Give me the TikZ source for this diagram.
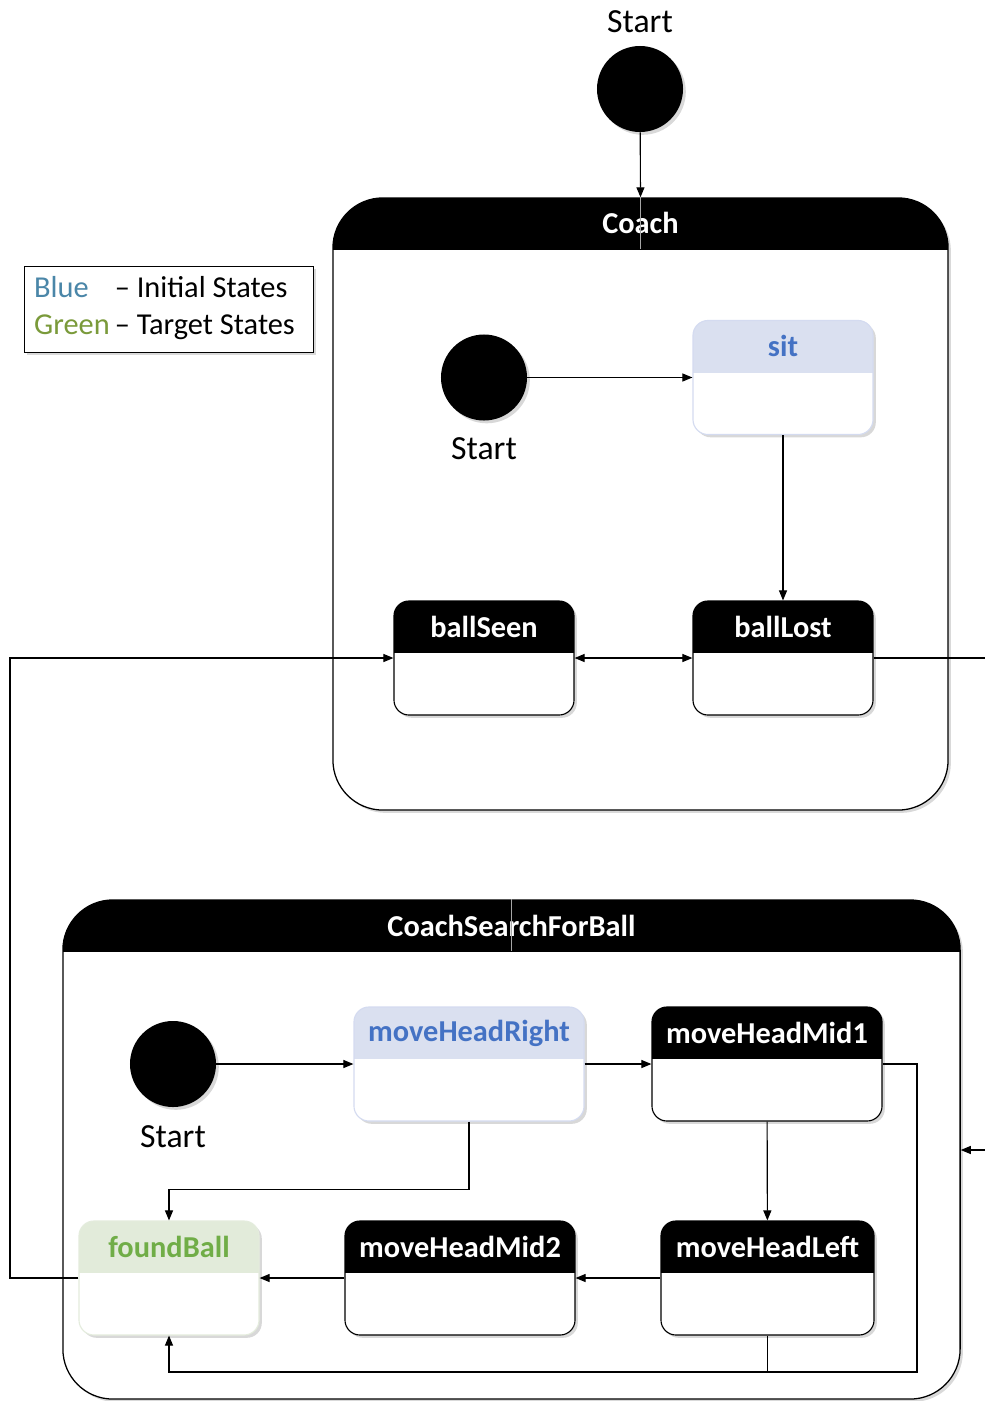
\documentclass[tikz,border=0pt]{standalone}
\usepackage{fontspec}
\setmainfont{Carlito}
\usetikzlibrary{arrows.meta,shadows}

\definecolor{legblue}{HTML}{4A86A8}
\definecolor{leggreen}{HTML}{7A9A3A}
\definecolor{inithead}{HTML}{DAE0F0}
\definecolor{initline}{HTML}{D4DBF0}
\definecolor{inittext}{HTML}{4472C4}
\definecolor{targethead}{HTML}{E2EBDA}
\definecolor{targetline}{HTML}{E4ECDD}
\definecolor{targettext}{HTML}{70AD47}

\begin{document}
\begin{tikzpicture}[x=0.025cm, y=-0.025cm,
    soft/.style={drop shadow={shadow xshift=0.07cm, shadow yshift=-0.07cm, opacity=0.3}},
    startdot/.style={circle, fill=black, minimum size=2.15cm, inner sep=0pt, soft},
    container/.style={draw, line width=0.9pt, rounded corners=1.25cm, fill=white, inner sep=0pt, soft,
      path picture={\fill[black, sharp corners] (path picture bounding box.north west) rectangle ([yshift=-1.3cm]path picture bounding box.north east);}},
    statebox/.style={draw, line width=0.8pt, rounded corners=0.375cm, fill=white, inner sep=0pt,
      minimum height=2.85cm, soft,
      path picture={\fill[#1, sharp corners] (path picture bounding box.north west) rectangle ([yshift=-1.3cm]path picture bounding box.north east);}},
    statebox/.default=black,
    headtext/.style={text=white, font=\bfseries\fontsize{21.6}{25}\selectfont},
    starttext/.style={font=\fontsize{24}{28}\selectfont},
    arr/.style={line width=0.8pt, -{Triangle[length=0.25cm, width=0.2cm]}},
    plain/.style={line width=0.8pt}]
   \clip (0,0) rectangle (985,1401);

   % legend
   \node[draw, fill=white, soft, minimum width=7.225cm, minimum height=2.15cm, inner sep=0pt,
     font=\fontsize{21.6}{26.3}\selectfont] (legend) at (168.5,309)
     {\raisebox{-0.075cm}{\begin{tabular}{@{}l@{\,}l@{\hspace{0.2cm}}}
       \textcolor{legblue}{Blue} & -- Initial States\\
       \textcolor{leggreen}{Green} & -- Target States
      \end{tabular}}};

   % top level
   \node[startdot] (start0) at (640,89) {};
   \node[starttext] (start0T) at (640,22) {Start};

   \node[container, minimum width=15.375cm, minimum height=15.3cm] (coach) at (640.5,504) {};
   \node[headtext] (coachT) at (640.5,223) {Coach};

   \node[container, minimum width=22.425cm, minimum height=12.475cm] (search) at (511.5,1149.5) {};
   \node[headtext] (searchT) at (511.5,926) {CoachSearchForBall};

   % Coach
   \node[startdot] (start1) at (484,377.5) {};
   \node[starttext] (start1T) at (484,449) {Start};
   \node[statebox=inithead, draw=initline, minimum width=4.5cm] (sit) at (783,377.5) {};
   \node[headtext, text=inittext] (sitT) at (783,346) {sit};
   \node[statebox, minimum width=4.5cm] (ballSeen) at (484,658) {};
   \node[headtext] (ballSeenT) at (484,627) {ballSeen};
   \node[statebox, minimum width=4.5cm] (ballLost) at (783,658) {};
   \node[headtext] (ballLostT) at (783,627) {ballLost};

   % CoachSearchForBall
   \node[startdot] (start2) at (173,1064) {};
   \node[starttext] (start2T) at (173,1137) {Start};
   \node[statebox=inithead, draw=initline, minimum width=5.75cm] (headRight) at (469,1064) {};
   \node[headtext, text=inittext] (headRightT) at (469,1033) {moveHeadRight};
   \node[statebox, minimum width=5.75cm] (headMid1) at (767,1064) {};
   \node[headtext] (headMid1T) at (767,1033) {moveHeadMid1};
   \node[statebox, minimum width=5.325cm] (headLeft) at (767.5,1278) {};
   \node[headtext] (headLeftT) at (767.5,1247) {moveHeadLeft};
   \node[statebox, minimum width=5.75cm] (headMid2) at (460,1278) {};
   \node[headtext] (headMid2T) at (460,1247) {moveHeadMid2};
   \node[statebox=targethead, draw=targetline, minimum width=4.5cm] (foundBall) at (169,1278) {};
   \node[headtext, text=targettext] (foundBallT) at (169,1247) {foundBall};

   \coordinate (rightRail) at (1000,1150);
   \coordinate (leftRail) at (10,900);
   \coordinate (loopCorner) at (917,1372);

   \draw[arr] (start0) -- (coach.north);
   \draw[gray!70, line width=0.5pt] (coach.north) -- ++(0,52);
   \draw[gray!70, line width=0.5pt] (search.north) -- ++(0,52);
   \draw[arr] (start1) -- (sit.west);
   \draw[arr] (sit) -- (ballLost);
   \draw[line width=0.8pt, {Triangle[length=0.25cm, width=0.2cm]}-{Triangle[length=0.25cm, width=0.2cm]}] (ballSeen.east) -- (ballLost.west);
   \draw[arr] (ballLost.east) -| (rightRail) -- (search.east |- rightRail);
   \draw[arr] (foundBall.west) -| (leftRail) |- (ballSeen.west);

   \draw[arr] (start2) -- (headRight.west);
   \draw[arr] (headRight) -- (headMid1);
   \draw[arr] (headMid1) -- (headLeft);
   \draw[arr] (headLeft) -- (headMid2);
   \draw[arr] (headMid2) -- (foundBall);
   \draw[arr] (headRight.south) -- ++(0,68) -| (foundBall.north);
   \draw[arr] (headMid1.east) -| (loopCorner) -| (foundBall.south);
   \draw[plain] (headLeft.south) -- (headLeft.south |- loopCorner);
 \end{tikzpicture}
\end{document}
